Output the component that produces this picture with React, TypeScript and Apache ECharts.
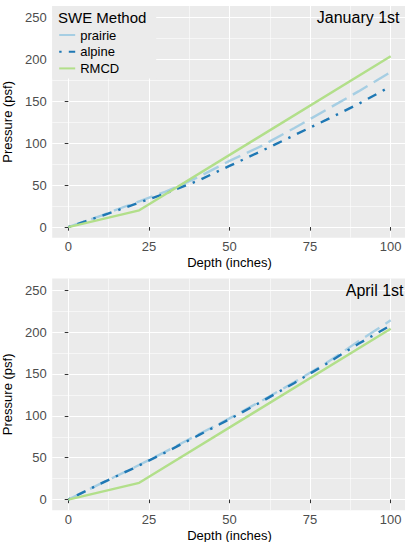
import React, { useEffect, useRef } from "react";
import * as echarts from "echarts";

// ---- data ----
const depths = [0, 10, 20, 30, 40, 50, 60, 70, 80, 90, 100];
const janPrairie = [0, 13.5, 28, 42, 59, 79, 97, 118, 140, 162, 185];
const janAlpine = [0, 12.8, 26.5, 40, 55, 73, 91, 109.5, 128, 147, 168];
const aprPrairie = [0, 19, 37.5, 57, 77, 97, 118, 140, 163, 189, 214];
const aprAlpine = [0, 19, 37, 56, 76, 96, 117, 139, 162, 186, 208];
const rmcdDepths = [0, 22, 100];
const rmcdPressure = [0, 20, 204];
const methods = ["prairie", "alpine", "RMCD"];
const panelTitles = ["January 1st", "April 1st"];
const xTicks = [0, 25, 50, 75, 100];
const xMinor = [12.5, 37.5, 62.5, 87.5];
const yTicks = [0, 50, 100, 150, 200, 250];
const yMinor = [25, 75, 125, 175, 225];

const colors: Record<string, string> = { prairie: "#A6CEE3", alpine: "#1F78B4", RMCD: "#B2DF8A" };
const LW = 2.4;
const dashes: Record<string, any> = {
  prairie: [17, 7.2],
  alpine: [2.4, 7.2, 9.6, 7.2],
  RMCD: "solid",
};

const FONT = "'Liberation Sans', Arial, Helvetica, sans-serif";
const PANEL_BG = "#EBEBEB";
const GRID_LEFT = 52.2;
const GRID_W = 354.6;
const GRID_H = 231.7;
const GRID_TOPS = [6, 278.5];
const X_MIN = -5, X_MAX = 105;
const Y_MIN = -12.7, Y_MAX = 264;

export default function App() {
  const ref = useRef<HTMLDivElement>(null);
  useEffect(() => {
    if (!ref.current) return;
    const chart = echarts.init(ref.current, undefined, { renderer: "svg" });

    const grids: any[] = [];
    const xAxes: any[] = [];
    const yAxes: any[] = [];
    const series: any[] = [];
    const panelData = [
      { prairie: janPrairie, alpine: janAlpine },
      { prairie: aprPrairie, alpine: aprAlpine },
    ];

    GRID_TOPS.forEach((top, g) => {
      grids.push({
        left: GRID_LEFT, top, width: GRID_W, height: GRID_H,
        show: true, backgroundColor: PANEL_BG, borderWidth: 0,
        containLabel: false, outerBoundsMode: "none",
      });
      // major x
      xAxes.push({
        gridIndex: g, type: "value", min: X_MIN, max: X_MAX, position: "bottom",
        axisLine: { show: false },
        axisTick: { show: true, customValues: xTicks, length: 3.6, lineStyle: { color: "#333333", width: 1 } },
        axisLabel: { customValues: xTicks, color: "#4D4D4D", fontSize: 13, margin: 2.5, fontFamily: FONT },
        splitLine: { show: true, lineStyle: { color: "#FFFFFF", width: 1.1 } },
        name: "Depth (inches)", nameLocation: "middle", nameGap: 18.5,
        nameTextStyle: { color: "#000000", fontSize: 13, fontFamily: FONT },
      });
      // minor x
      xAxes.push({
        gridIndex: g, type: "value", min: X_MIN, max: X_MAX, position: "top",
        axisLine: { show: false },
        axisTick: { show: false, customValues: xMinor },
        axisLabel: { show: false, customValues: xMinor },
        splitLine: { show: true, lineStyle: { color: "#FFFFFF", width: 0.55 } },
      });
      yAxes.push({
        gridIndex: g, type: "value", min: Y_MIN, max: Y_MAX, position: "left",
        axisLine: { show: false },
        axisTick: { show: true, customValues: yTicks, length: 3.6, lineStyle: { color: "#333333", width: 1 } },
        axisLabel: { customValues: yTicks, color: "#4D4D4D", fontSize: 13, margin: 5.5, fontFamily: FONT },
        splitLine: { show: true, lineStyle: { color: "#FFFFFF", width: 1.1 } },
        name: "Pressure (psf)", nameLocation: "middle", nameRotate: 90, nameGap: 32,
        nameTextStyle: { color: "#000000", fontSize: 13, fontFamily: FONT },
      });
      yAxes.push({
        gridIndex: g, type: "value", min: Y_MIN, max: Y_MAX, position: "right",
        axisLine: { show: false },
        axisTick: { show: false, customValues: yMinor },
        axisLabel: { show: false, customValues: yMinor },
        splitLine: { show: true, lineStyle: { color: "#FFFFFF", width: 0.55 } },
      });

      methods.forEach((m) => {
        const data =
          m === "RMCD"
            ? rmcdDepths.map((d, i) => [d, rmcdPressure[i]])
            : depths.map((d, i) => [d, (panelData[g] as any)[m][i]]);
        series.push({
          type: "line", name: m, xAxisIndex: g * 2, yAxisIndex: g * 2,
          data, symbol: "none", showSymbol: false, silent: true,
          color: colors[m],
          lineStyle: { color: colors[m], width: LW, type: dashes[m], cap: "butt" },
          z: 3,
        });
      });
    });

    chart.setOption({
      animation: false,
      textStyle: { fontFamily: FONT },
      grid: grids,
      xAxis: xAxes,
      yAxis: yAxes,
      series,
      legend: {
        data: methods, orient: "vertical", left: GRID_LEFT, top: 6,
        padding: [22, 37, 3, 6], itemWidth: 16, itemHeight: 14, itemGap: 2.7,
        backgroundColor: PANEL_BG, selectedMode: false,
        itemStyle: { opacity: 0 },
        textStyle: { fontSize: 13, color: "#000000", fontFamily: FONT, lineHeight: 14 },
      },
      graphic: [
        { type: "text", z: 100, left: 58, top: 10, style: { text: "SWE Method", fontSize: 15, fill: "#000000", fontFamily: FONT } },
        { type: "text", z: 100, x: 399.5, y: 17.3, style: { text: panelTitles[0], fontSize: 16, fill: "#000000", fontFamily: FONT, align: "right", verticalAlign: "middle" } },
        { type: "text", z: 100, x: 403.5, y: 290, style: { text: panelTitles[1], fontSize: 16, fill: "#000000", fontFamily: FONT, align: "right", verticalAlign: "middle" } },
      ],
    });
    return () => chart.dispose();
  }, []);
  return <div ref={ref} style={{ position: "absolute", left: 0, top: 0, width: 405, height: 542 }} />;
}
